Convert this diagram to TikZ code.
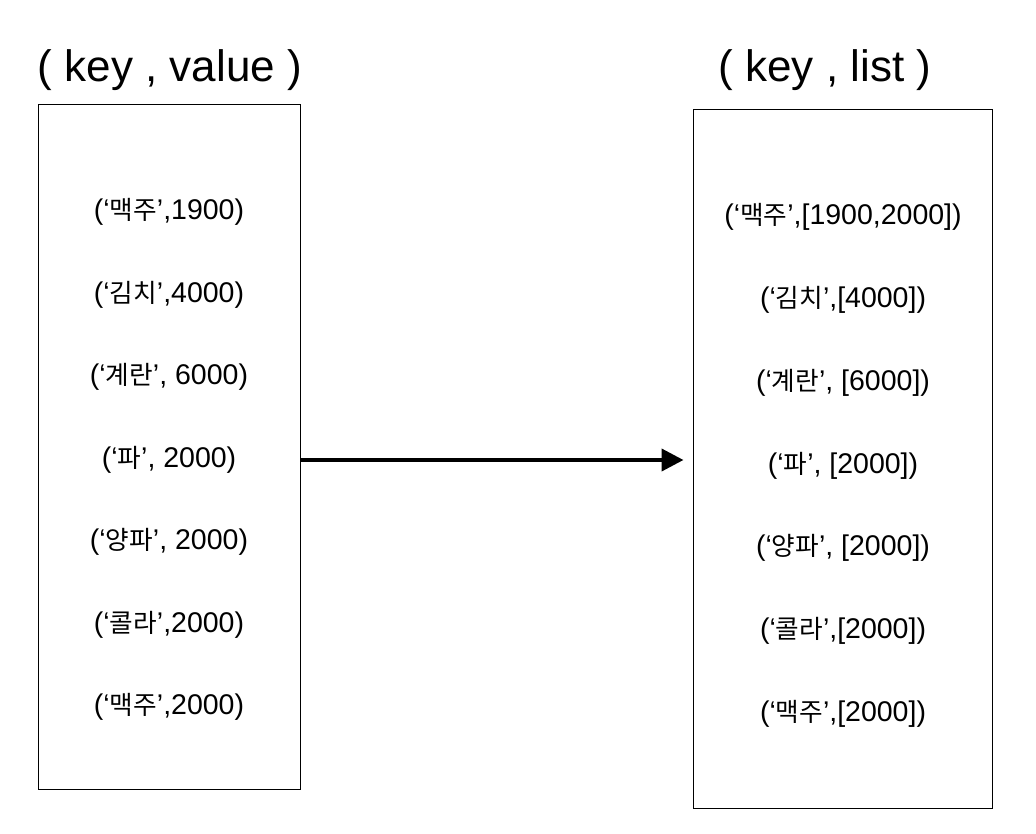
\documentclass[tikz,border=0pt]{standalone}
\usepackage{fontspec}
\setmainfont{Liberation Sans}
\newfontfamily\kr[Scale=0.9]{Noto Sans CJK KR}
\usetikzlibrary{positioning,arrows.meta}

\begin{document}
\begin{tikzpicture}[x=1pt, y=-1pt,
    heading/.style={font=\fontsize{44}{50}\selectfont, anchor=base, inner sep=0pt},
    pairbox/.style={draw, line width=1pt, inner sep=0pt},
    kvrow/.style={font=\fontsize{28.5}{32}\selectfont, inner sep=0pt, text height=41pt, text depth=41pt},
    listrow/.style={kvrow, text height=41.15pt, text depth=41.15pt}]
    \useasboundingbox (0,0) rectangle (1036,834);

    \node[heading] (kvtitle) at (170,82) {( key , value )};
    \node[heading] (listtitle) at (825,82) {( key , list )};

    \node[pairbox, minimum width=262pt, minimum height=684pt] (kvbox) at (169,447) {};
    \node[pairbox, minimum width=299pt, minimum height=698pt] (listbox) at (842.5,459) {};

    % left column
    \node[kvrow] (kv1) at (169,220) {(‘{\kr 맥주}’,1900)};
    \node[kvrow, below=0pt of kv1] (kv2) {(‘{\kr 김치}’,4000)};
    \node[kvrow, below=0pt of kv2] (kv3) {(‘{\kr 계란}’, 6000)};
    \node[kvrow, below=0pt of kv3] (kv4) {(‘{\kr 파}’, 2000)};
    \node[kvrow, below=0pt of kv4] (kv5) {(‘{\kr 양파}’, 2000)};
    \node[kvrow, below=0pt of kv5] (kv6) {(‘{\kr 콜라}’,2000)};
    \node[kvrow, below=0pt of kv6] (kv7) {(‘{\kr 맥주}’,2000)};

    % right column
    \node[listrow] (ls1) at (843,225) {(‘{\kr 맥주}’,[1900,2000])};
    \node[listrow, below=0pt of ls1] (ls2) {(‘{\kr 김치}’,[4000])};
    \node[listrow, below=0pt of ls2] (ls3) {(‘{\kr 계란}’, [6000])};
    \node[listrow, below=0pt of ls3] (ls4) {(‘{\kr 파}’, [2000])};
    \node[listrow, below=0pt of ls4] (ls5) {(‘{\kr 양파}’, [2000])};
    \node[listrow, below=0pt of ls5] (ls6) {(‘{\kr 콜라}’,[2000])};
    \node[listrow, below=0pt of ls6] (ls7) {(‘{\kr 맥주}’,[2000])};

    \coordinate (start) at ([yshift=-13pt]kvbox.east);
    \draw[line width=4pt, -{Triangle[length=22pt,width=22pt]}, shorten >=9pt]
        (start) -- (listbox.west |- start);
\end{tikzpicture}
\end{document}
